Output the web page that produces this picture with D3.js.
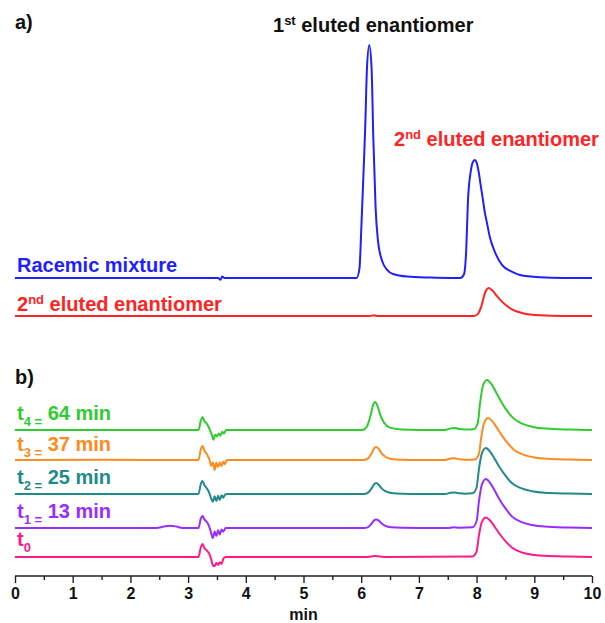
<!DOCTYPE html>
<html>
<head>
<meta charset="utf-8">
<script src="https://cdn.jsdelivr.net/npm/d3@7"></script>
<style>
  body { margin: 0; background: #fff; }
  text { font-family: "Liberation Sans", Arial, sans-serif; font-weight: bold; }
  .line { fill: none; stroke-width: 2; stroke-linejoin: round; }
</style>
</head>
<body>
<div id="chart"></div>
<script>
// retention time (min), signal (a.u., first racemic peak = 100)
var racemic = [[0, 0], [3.52, 0], [3.56, -0.8], [3.59, 0.6], [3.63, 0], [5.92, 0], [5.97, 4], [6.00, 20], [6.04, 45],
  [6.07, 65], [6.10, 90], [6.14, 100], [6.18, 90], [6.21, 60], [6.25, 30], [6.29, 16], [6.36, 7.5], [6.45, 3.5],
  [6.55, 1.7], [6.8, 0.6], [7.2, 0.2], [7.6, 0], [7.72, 0], [7.78, 1.5], [7.82, 12], [7.85, 33], [7.90, 46],
  [7.94, 50], [7.97, 50.6], [8.00, 49.5], [8.04, 45], [8.07, 40], [8.11, 33.5], [8.14, 28.5], [8.18, 23.6],
  [8.23, 17.5], [8.32, 11], [8.44, 5.6], [8.6, 2.8], [8.75, 1.3], [9.1, 0.3], [9.5, 0], [10, 0]];
var second = [[0, 0], [6.15, 0], [6.22, 0.3], [6.3, 0], [7.95, 0], [8.02, 0.8], [8.08, 4], [8.14, 9.5], [8.21, 12],
  [8.28, 10.8], [8.35, 8.6], [8.41, 6.9], [8.5, 4.8], [8.63, 2.6], [8.8, 1.2], [9.1, 0.3], [9.5, 0], [10, 0]];

var t4 = [[0, 0], [3.18, 0], [3.22, 4], [3.25, 5.6], [3.28, 4], [3.33, 2.5], [3.37, 0.5], [3.41, -2], [3.44, -4.2],
  [3.47, -2], [3.50, -2.8], [3.53, -1.5], [3.56, -2.5], [3.59, -0.8], [3.62, -1.5], [3.66, 0], [6.02, 0],
  [6.10, 1.5], [6.16, 6], [6.21, 11], [6.24, 12], [6.28, 10.5], [6.33, 6.5], [6.40, 3], [6.5, 1], [6.7, 0.2],
  [7.0, 0], [7.45, 0], [7.55, 0.7], [7.62, 0.9], [7.7, 0.4], [7.8, 0.2], [7.95, 0.3], [8.02, 3], [8.06, 11.6],
  [8.11, 19], [8.18, 21.5], [8.25, 20], [8.33, 16.5], [8.41, 12.9], [8.52, 8.5], [8.63, 5.2], [8.8, 2.6],
  [8.98, 1.3], [9.2, 0.6], [9.6, 0.2], [10, 0]];
var t3 = [[0, 0], [1.5, 0.1], [3.18, 0], [3.22, 4.5], [3.25, 6], [3.28, 4.2], [3.33, 2.3], [3.37, 0.2], [3.40, -2.5],
  [3.43, -1], [3.46, -4.3], [3.49, -1.2], [3.52, -3], [3.55, -1], [3.58, -2.6], [3.61, -0.6], [3.64, -1.8],
  [3.67, 0], [6.04, 0], [6.12, 0.7], [6.18, 2.8], [6.23, 5.2], [6.26, 5.6], [6.30, 4.9], [6.35, 3.0], [6.42, 1.4],
  [6.52, 0.45], [6.72, 0.1], [7.0, 0], [7.45, 0], [7.55, 0.6], [7.62, 0.7], [7.7, 0.3], [7.8, 0.1], [7.97, 0.25],
  [8.04, 2.5], [8.08, 9.7], [8.13, 15.8], [8.20, 18], [8.27, 16.7], [8.35, 13.9], [8.43, 10.8], [8.54, 7.2],
  [8.65, 4.3], [8.82, 2.2], [9.0, 1.1], [9.22, 0.5], [9.6, 0.2], [10, 0]];
var t2 = [[0, 0], [3.18, 0], [3.22, 4.3], [3.25, 5.6], [3.28, 4], [3.33, 2.2], [3.37, 0.3], [3.40, -2],
  [3.43, -3.3], [3.46, -1], [3.49, -3], [3.52, -0.8], [3.55, -2.6], [3.58, -0.5], [3.61, -1.6], [3.64, -0.3],
  [3.68, 0], [6.04, 0], [6.12, 0.6], [6.18, 2.4], [6.23, 4.3], [6.26, 4.7], [6.30, 4.1], [6.35, 2.5], [6.42, 1.2],
  [6.52, 0.4], [6.72, 0.1], [7.0, 0], [7.45, 0], [7.55, 0.5], [7.62, 0.6], [7.7, 0.3], [7.8, 0.1], [7.93, 0.3],
  [8.00, 2.8], [8.04, 10.6], [8.09, 17.3], [8.16, 19.7], [8.23, 18.3], [8.31, 15.2], [8.39, 11.8], [8.50, 7.9],
  [8.61, 4.7], [8.78, 2.4], [8.96, 1.2], [9.18, 0.55], [9.6, 0.2], [10, 0]];
var t1 = [[0, 0], [2.45, 0], [2.58, 0.6], [2.69, 1], [2.8, 0.6], [2.9, 0], [3.18, 0], [3.22, 4], [3.25, 5.2],
  [3.28, 3.8], [3.33, 2.4], [3.37, 0.4], [3.40, -2.2], [3.43, -4.3], [3.46, -1.5], [3.49, -3.4], [3.52, -1],
  [3.55, -2.8], [3.58, -0.6], [3.61, -1.6], [3.65, 0], [6.04, 0], [6.12, 0.4], [6.18, 1.9], [6.23, 3.4],
  [6.26, 3.7], [6.30, 3.3], [6.35, 2.0], [6.42, 0.9], [6.52, 0.3], [6.72, 0.07], [7.0, 0], [7.5, 0],
  [7.6, 0.3], [7.7, 0.1], [7.93, 0.3], [8.00, 2.9], [8.04, 11.3], [8.09, 18.5], [8.16, 21], [8.23, 19.5],
  [8.31, 16.2], [8.39, 12.6], [8.50, 8.4], [8.61, 5.0], [8.78, 2.5], [8.96, 1.3], [9.18, 0.6], [9.6, 0.2], [10, 0]];
var t0 = [[0, 0], [3.18, 0], [3.22, 4.2], [3.25, 5.6], [3.28, 4], [3.33, 2.6], [3.37, 1.2], [3.40, -1],
  [3.43, -3.6], [3.46, -3.9], [3.49, -2.6], [3.52, -3.4], [3.55, -2.2], [3.58, -3], [3.61, -0.8], [3.65, 0],
  [6.1, 0], [6.24, 0.4], [6.4, 0], [7.93, 0.24], [8.00, 2.4], [8.04, 9.2], [8.09, 15], [8.16, 17],
  [8.23, 15.8], [8.31, 13.1], [8.39, 10.2], [8.50, 6.8], [8.61, 4.1], [8.78, 2.0], [8.96, 1.0], [9.18, 0.5],
  [9.6, 0.17], [10, 0]];

var timeTicks = [0, 1, 2, 3, 4, 5, 6, 7, 8, 9, 10];
var minorTicks = [0.5, 1.5, 2.5, 3.5, 4.5, 5.5, 6.5, 7.5, 8.5, 9.5];

// series, label pieces [main, sub, tail], colour
var traces = [
  { data: racemic, color: "#1f1fff", base: 278, label: ["Racemic mixture", "", ""], ly: 272 },
  { data: second, color: "#ff2424", base: 316, label: ["2", "nd", " eluted enantiomer"], ly: 311, sup: true },
  { data: t4, color: "#2ecc2e", base: 430, label: ["t", "4 =", " 64 min"], ly: 420 },
  { data: t3, color: "#ff8a1e", base: 460, label: ["t", "3 =", " 37 min"], ly: 451 },
  { data: t2, color: "#218a8a", base: 494, label: ["t", "2 =", " 25 min"], ly: 484 },
  { data: t1, color: "#9a2cff", base: 528, label: ["t", "1 =", " 13 min"], ly: 518 },
  { data: t0, color: "#ff1a8c", base: 557, label: ["t", "0", ""], ly: 546 }
];

var margin = { left: 15, right: 13 },
  width = 605, height = 623,
  axisY = 576,
  pxPerUnit = 2.33;

var x = d3.scaleLinear().domain([0, 10]).range([margin.left, width - margin.right]);

var svg = d3.select("#chart").append("svg")
  .attr("width", width)
  .attr("height", height);

traces.forEach(function (tr) {
  var y = d3.scaleLinear().domain([0, 100]).range([tr.base, tr.base - 100 * pxPerUnit]);
  var valueline = d3.line()
    .x(function (d) { return x(d[0]); })
    .y(function (d) { return y(d[1]); })
    .curve(d3.curveMonotoneX);

  svg.append("path")
    .datum(tr.data)
    .attr("class", "line")
    .attr("stroke", tr.color)
    .attr("d", valueline);

  var t = svg.append("text")
    .attr("x", 17)
    .attr("y", tr.ly)
    .attr("fill", tr.color)
    .style("font-size", "20px");
  t.append("tspan").text(tr.label[0]);
  if (tr.label[1]) {
    t.append("tspan")
      .attr("dy", tr.sup ? -7 : 6)
      .style("font-size", "13px")
      .text(tr.label[1]);
    if (tr.label[2]) {
      t.append("tspan")
        .attr("dy", tr.sup ? 7 : -6)
        .text(tr.label[2]);
    }
  }
});

// peak annotations
var a1 = svg.append("text").attr("x", 273).attr("y", 32).attr("fill", "#111").style("font-size", "20px");
a1.append("tspan").text("1");
a1.append("tspan").attr("dy", -7).style("font-size", "13px").text("st");
a1.append("tspan").attr("dy", 7).text(" eluted enantiomer");

var a2 = svg.append("text").attr("x", 394).attr("y", 146).attr("fill", "#ff2424").style("font-size", "20px");
a2.append("tspan").text("2");
a2.append("tspan").attr("dy", -7).style("font-size", "13px").text("nd");
a2.append("tspan").attr("dy", 7).text(" eluted enantiomer");

svg.append("text").attr("x", 15).attr("y", 29).attr("fill", "#111").style("font-size", "20px").text("a)");
svg.append("text").attr("x", 15).attr("y", 384).attr("fill", "#111").style("font-size", "20px").text("b)");

// x axis
var gx = svg.append("g").attr("transform", "translate(0," + axisY + ")");
gx.call(d3.axisBottom(x).tickValues(timeTicks).tickSize(7).tickPadding(5).tickFormat(d3.format("d")));
gx.append("g").call(d3.axisBottom(x).tickValues(minorTicks).tickSize(4).tickFormat(""))
  .select(".domain").remove();
gx.selectAll(".domain").attr("d", "M" + x(0) + ",0H" + x(10)).attr("stroke", "#222").attr("stroke-width", 1.6);
gx.selectAll(".tick line").attr("stroke", "#222").attr("stroke-width", 1.4);
gx.selectAll(".tick text").attr("fill", "#111")
  .style("font-family", "'Liberation Sans', Arial, sans-serif")
  .style("font-weight", "bold")
  .style("font-size", "16px");

svg.append("text")
  .attr("x", x(5))
  .attr("y", 620)
  .attr("text-anchor", "middle")
  .attr("fill", "#111")
  .style("font-size", "16px")
  .text("min");
</script>
</body>
</html>
